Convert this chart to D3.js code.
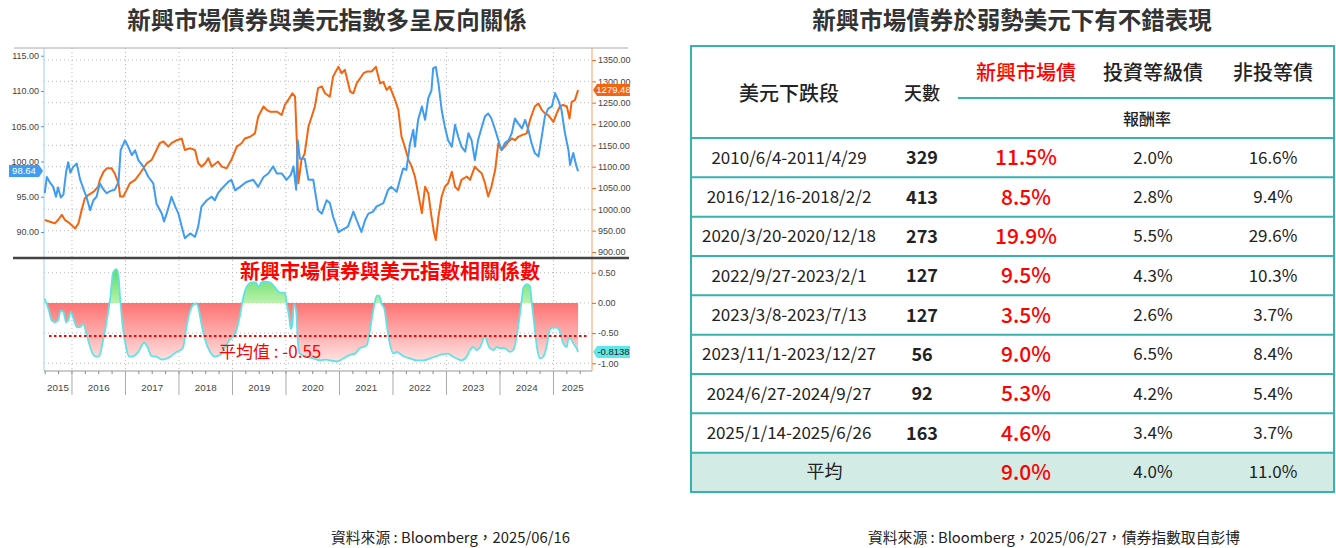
<!DOCTYPE html>
<html>
<head>
<meta charset="utf-8">
<script src="https://cdn.jsdelivr.net/npm/d3@7"></script>
<style>
  html, body { margin: 0; padding: 0; background: #fff; }
  svg { display: block; font-family: "Noto Sans CJK TC", "Noto Sans", sans-serif; }
  .ax text { font-family: "Liberation Sans", Arial, sans-serif; font-size: 9px; fill: #444; }
</style>
</head>
<body>
<svg id="chart" width="1336" height="548"></svg>
<script>
// ---- data ----
let dxySeries = [
  [2015.49,95.5],[2015.53,97.8],[2015.59,97.0],[2015.65,96.4],[2015.70,95.0],[2015.74,96.3],[2015.79,94.9],[2015.84,95.3],
  [2015.89,98.5],[2015.93,99.9],[2015.97,98.4],[2016.02,99.2],[2016.09,99.7],[2016.15,97.5],[2016.21,96.2],[2016.27,95.0],
  [2016.34,93.1],[2016.40,94.5],[2016.46,95.0],[2016.52,96.9],[2016.59,96.0],[2016.65,95.5],[2016.71,95.8],[2016.80,96.0],
  [2016.87,97.1],[2016.91,101.6],[2016.99,103.0],[2017.05,102.1],[2017.12,100.9],[2017.18,101.6],[2017.24,100.2],[2017.33,99.3],
  [2017.43,97.8],[2017.52,96.9],[2017.58,94.0],[2017.68,92.6],[2017.72,91.5],[2017.77,92.6],[2017.86,95.0],[2017.93,93.6],
  [2017.99,92.6],[2018.05,90.8],[2018.11,89.1],[2018.21,89.8],[2018.30,89.3],[2018.36,90.8],[2018.42,93.6],[2018.52,94.5],
  [2018.61,95.0],[2018.67,94.5],[2018.73,95.5],[2018.83,96.4],[2018.92,97.1],[2018.98,97.4],[2019.05,95.9],[2019.14,96.4],
  [2019.26,97.1],[2019.39,97.4],[2019.48,96.4],[2019.58,97.8],[2019.67,98.3],[2019.76,99.3],[2019.83,98.3],[2019.92,98.3],
  [2020.01,97.4],[2020.09,98.1],[2020.14,99.3],[2020.19,96.0],[2020.22,103.0],[2020.26,100.4],[2020.35,100.4],[2020.42,97.4],
  [2020.51,97.4],[2020.60,93.1],[2020.67,92.6],[2020.76,94.5],[2020.82,94.1],[2020.88,92.2],[2020.98,90.0],[2021.10,90.5],
  [2021.16,90.8],[2021.26,92.9],[2021.32,91.7],[2021.41,90.0],[2021.48,91.7],[2021.54,92.6],[2021.63,92.9],[2021.69,93.6],
  [2021.82,94.1],[2021.91,96.0],[2021.97,96.4],[2022.07,95.7],[2022.13,97.4],[2022.19,99.0],[2022.25,98.8],[2022.32,102.6],
  [2022.38,104.5],[2022.41,102.1],[2022.47,105.9],[2022.54,107.8],[2022.60,105.9],[2022.66,109.0],[2022.72,110.1],[2022.75,113.2],
  [2022.80,113.4],[2022.85,111.1],[2022.91,107.3],[2022.97,104.9],[2023.03,103.0],[2023.10,102.1],[2023.16,105.2],[2023.22,103.5],
  [2023.28,102.1],[2023.35,101.4],[2023.41,104.0],[2023.47,103.0],[2023.53,100.2],[2023.59,103.0],[2023.66,104.9],[2023.72,106.4],
  [2023.78,106.8],[2023.84,106.1],[2023.91,104.5],[2023.97,103.0],[2024.03,101.6],[2024.09,102.6],[2024.16,103.0],[2024.22,104.0],
  [2024.28,106.1],[2024.34,105.4],[2024.41,104.7],[2024.47,105.9],[2024.53,104.5],[2024.59,102.6],[2024.65,101.2],[2024.72,100.7],
  [2024.78,103.5],[2024.84,106.4],[2024.90,107.5],[2024.97,107.8],[2025.03,109.7],[2025.09,108.7],[2025.15,107.3],[2025.21,104.2],
  [2025.28,101.6],[2025.31,99.5],[2025.37,101.2],[2025.43,99.3],[2025.46,98.64]
];

let emSeries = [
  [2015.49,975],[2015.59,971],[2015.68,967],[2015.74,975],[2015.81,987],[2015.87,975],[2015.96,967],[2016.06,955],
  [2016.12,967],[2016.18,998],[2016.24,1026],[2016.31,1034],[2016.40,1041],[2016.49,1053],[2016.52,1069],[2016.59,1088],
  [2016.65,1096],[2016.74,1096],[2016.80,1084],[2016.87,1061],[2016.90,1030],[2016.96,1030],[2017.02,1045],[2017.08,1061],
  [2017.18,1069],[2017.27,1084],[2017.40,1108],[2017.49,1116],[2017.58,1139],[2017.64,1155],[2017.71,1159],[2017.80,1147],
  [2017.86,1155],[2017.96,1162],[2018.05,1166],[2018.11,1139],[2018.21,1143],[2018.30,1139],[2018.36,1108],[2018.42,1100],
  [2018.49,1108],[2018.55,1120],[2018.61,1100],[2018.73,1112],[2018.80,1100],[2018.89,1096],[2018.98,1116],[2019.08,1147],
  [2019.17,1155],[2019.23,1166],[2019.33,1170],[2019.42,1178],[2019.48,1217],[2019.58,1241],[2019.64,1233],[2019.70,1229],
  [2019.83,1229],[2019.92,1221],[2019.98,1245],[2020.04,1256],[2020.12,1272],[2020.17,1264],[2020.20,1170],[2020.23,1061],
  [2020.29,1116],[2020.35,1131],[2020.42,1194],[2020.48,1217],[2020.54,1241],[2020.60,1284],[2020.67,1288],[2020.73,1272],
  [2020.82,1264],[2020.88,1311],[2020.98,1334],[2021.04,1319],[2021.10,1327],[2021.20,1276],[2021.26,1272],[2021.32,1295],
  [2021.45,1319],[2021.51,1323],[2021.60,1323],[2021.68,1334],[2021.76,1295],[2021.82,1299],[2021.88,1280],[2021.94,1288],
  [2022.04,1256],[2022.10,1233],[2022.16,1170],[2022.22,1147],[2022.29,1116],[2022.35,1100],[2022.41,1077],[2022.47,1038],
  [2022.54,991],[2022.60,1053],[2022.66,1038],[2022.72,983],[2022.77,944],[2022.80,928],[2022.85,983],[2022.91,1030],
  [2022.97,1053],[2023.03,1061],[2023.10,1088],[2023.16,1053],[2023.22,1045],[2023.28,1069],[2023.38,1077],[2023.44,1069],
  [2023.53,1100],[2023.59,1092],[2023.66,1084],[2023.72,1061],[2023.78,1030],[2023.84,1053],[2023.91,1092],[2023.97,1155],
  [2024.03,1139],[2024.09,1147],[2024.16,1159],[2024.22,1166],[2024.28,1162],[2024.34,1170],[2024.41,1174],[2024.50,1178],
  [2024.56,1209],[2024.65,1241],[2024.72,1248],[2024.78,1233],[2024.84,1225],[2024.90,1221],[2025.00,1205],[2025.06,1225],
  [2025.12,1241],[2025.18,1245],[2025.25,1241],[2025.30,1213],[2025.34,1252],[2025.40,1256],[2025.46,1279.48]
];

let corrSeries = [
  [2015.49,0.07],[2015.56,-0.10],[2015.62,-0.29],[2015.68,-0.32],[2015.74,-0.29],[2015.79,-0.13],[2015.84,-0.15],[2015.89,-0.32],
  [2015.93,-0.29],[2015.98,-0.15],[2016.02,-0.24],[2016.09,-0.40],[2016.15,-0.40],[2016.21,-0.35],[2016.27,-0.51],[2016.34,-0.73],
  [2016.40,-0.86],[2016.46,-0.89],[2016.51,-0.88],[2016.57,-0.67],[2016.64,-0.35],[2016.71,0.04],[2016.77,0.50],[2016.83,0.56],
  [2016.87,0.45],[2016.90,0.07],[2016.95,-0.40],[2017.01,-0.73],[2017.07,-0.89],[2017.15,-0.88],[2017.24,-0.81],[2017.35,-0.66],
  [2017.41,-0.73],[2017.49,-0.88],[2017.58,-0.89],[2017.68,-0.94],[2017.77,-0.92],[2017.86,-0.88],[2017.96,-0.81],[2018.05,-0.77],
  [2018.08,-0.73],[2018.14,-0.40],[2018.21,-0.13],[2018.28,-0.02],[2018.33,-0.01],[2018.36,-0.07],[2018.42,-0.35],[2018.49,-0.62],
  [2018.58,-0.81],[2018.67,-0.89],[2018.77,-0.86],[2018.86,-0.73],[2018.95,-0.61],[2019.02,-0.55],[2019.08,-0.43],[2019.14,-0.21],
  [2019.19,0.04],[2019.26,0.26],[2019.36,0.34],[2019.44,0.34],[2019.48,0.26],[2019.54,0.34],[2019.61,0.35],[2019.70,0.34],
  [2019.79,0.26],[2019.89,0.17],[2019.98,0.17],[2020.01,0.01],[2020.06,-0.24],[2020.09,-0.43],[2020.12,-0.35],[2020.15,-0.02],
  [2020.19,-0.13],[2020.22,-0.62],[2020.26,-0.84],[2020.36,-0.88],[2020.51,-0.92],[2020.64,-0.95],[2020.76,-0.94],[2020.82,-0.95],
  [2020.95,-0.97],[2021.07,-0.92],[2021.20,-0.86],[2021.29,-0.84],[2021.38,-0.75],[2021.45,-0.73],[2021.51,-0.70],[2021.57,-0.45],
  [2021.63,-0.13],[2021.70,0.12],[2021.74,0.12],[2021.79,-0.02],[2021.84,-0.10],[2021.88,-0.35],[2021.94,-0.67],[2022.01,-0.84],
  [2022.07,-0.81],[2022.13,-0.84],[2022.19,-0.88],[2022.32,-0.92],[2022.44,-0.95],[2022.57,-0.95],[2022.69,-0.92],[2022.82,-0.88],
  [2022.94,-0.85],[2023.03,-0.84],[2023.10,-0.88],[2023.19,-0.92],[2023.28,-0.95],[2023.38,-0.89],[2023.44,-0.78],[2023.50,-0.73],
  [2023.56,-0.78],[2023.63,-0.73],[2023.68,-0.62],[2023.72,-0.54],[2023.76,-0.65],[2023.81,-0.75],[2023.88,-0.78],[2023.94,-0.73],
  [2024.00,-0.75],[2024.09,-0.75],[2024.19,-0.81],[2024.25,-0.78],[2024.30,-0.62],[2024.34,-0.40],[2024.39,-0.07],[2024.44,0.26],
  [2024.50,0.31],[2024.56,0.28],[2024.59,0.04],[2024.64,-0.35],[2024.69,-0.73],[2024.75,-0.92],[2024.81,-0.89],[2024.87,-0.73],
  [2024.93,-0.45],[2024.98,-0.41],[2025.06,-0.41],[2025.12,-0.48],[2025.18,-0.67],[2025.25,-0.73],[2025.28,-0.59],[2025.32,-0.59],
  [2025.37,-0.67],[2025.43,-0.75],[2025.46,-0.8138]
];

let avgCorr = -0.55;
let dxyTicks = [90, 95, 100, 105, 110, 115];
let emTicks = [900, 950, 1000, 1050, 1100, 1150, 1200, 1250, 1300, 1350];
let corrTicks = [-1, -0.5, 0, 0.5];
let yearLabels = ['2015', '2016', '2017', '2018', '2019', '2020', '2021', '2022', '2023', '2024', '2025'];

let periods = ['2010/6/4-2011/4/29', '2016/12/16-2018/2/2', '2020/3/20-2020/12/18', '2022/9/27-2023/2/1',
  '2023/3/8-2023/7/13', '2023/11/1-2023/12/27', '2024/6/27-2024/9/27', '2025/1/14-2025/6/26'];
let days = [329, 413, 273, 127, 127, 56, 92, 163];
let emReturn = [11.5, 8.5, 19.9, 9.5, 3.5, 9.0, 5.3, 4.6];
let igReturn = [2.0, 2.8, 5.5, 4.3, 2.6, 6.5, 4.2, 3.4];
let hyReturn = [16.6, 9.4, 29.6, 10.3, 3.7, 8.4, 5.4, 3.7];
let avgReturn = [9.0, 4.0, 11.0];

// ---- setup ----
let svg = d3.select('#chart');
let defs = svg.append('defs');

let x = d3.scaleLinear().domain([2015.477, 2025.72]).range([44, 592]);
let yDxy = d3.scaleLinear().domain([90, 115]).range([232, 55.7]);
let yEm = d3.scaleLinear().domain([900, 1350]).range([252, 60]);
let yCorr = d3.scaleLinear().domain([-1, 0.5]).range([363.3, 272.7]);

let plotL = 44, plotR = 592, topY0 = 48, topY1 = 257, botY0 = 259, botY1 = 371;
let pct = d3.format('.1f');
// plain hyphen for negatives, as on the source chart
let fmt = function(spec) {
  let f = d3.format(spec);
  return function(v) { return f(v).replace('\u2212', '-'); };
};

drawTitles();
drawFrame();
drawTopPanel();
drawCorrPanel();
drawYearAxis();
drawTable();

function drawTitles() {
  svg.append('text')
    .attr('x', 327).attr('y', 29)
    .attr('text-anchor', 'middle')
    .attr('font-size', 23.5).attr('font-weight', 'bold').attr('fill', '#333')
    .text('新興市場債券與美元指數多呈反向關係');

  svg.append('text')
    .attr('x', 1012).attr('y', 29)
    .attr('text-anchor', 'middle')
    .attr('font-size', 23.5).attr('font-weight', 'bold').attr('fill', '#333')
    .text('新興市場債券於弱勢美元下有不錯表現');

  svg.append('text')
    .attr('x', 331).attr('y', 543)
    .attr('font-size', 14.8).attr('fill', '#222')
    .text('資料來源 : Bloomberg，2025/06/16');

  svg.append('text')
    .attr('x', 868).attr('y', 543)
    .attr('font-size', 14.8).attr('fill', '#222')
    .text('資料來源 : Bloomberg，2025/06/27，債券指數取自彭博');
}

function drawFrame() {
  // dotted grid
  let grid = svg.append('g').attr('stroke', '#b8b8b8').attr('stroke-dasharray', '1,3').attr('stroke-width', 1);
  grid.selectAll('line.h').data(emTicks).enter().append('line')
    .attr('x1', plotL).attr('x2', plotR)
    .attr('y1', d => yEm(d)).attr('y2', d => yEm(d));
  grid.selectAll('line.hc').data(corrTicks).enter().append('line')
    .attr('x1', plotL).attr('x2', plotR)
    .attr('y1', d => yCorr(d)).attr('y2', d => yCorr(d));
  let bounds = d3.range(2016, 2026);
  grid.selectAll('line.v').data(bounds).enter().append('line')
    .attr('x1', d => x(d)).attr('x2', d => x(d))
    .attr('y1', topY0).attr('y2', botY1);

  svg.append('line')
    .attr('x1', 14).attr('x2', 628).attr('y1', topY0).attr('y2', topY0)
    .attr('stroke', '#a9a9a9').attr('stroke-width', 1);

  svg.append('line')
    .attr('x1', plotL).attr('x2', plotL).attr('y1', topY0).attr('y2', botY1)
    .attr('stroke', '#9fd0f2').attr('stroke-width', 1);

  svg.append('line')
    .attr('x1', plotL).attr('x2', plotR).attr('y1', botY1).attr('y2', botY1)
    .attr('stroke', '#999').attr('stroke-width', 1);
}

function drawTopPanel() {
  let clipTop = defs.append('clipPath').attr('id', 'clipTop');
  clipTop.append('rect').attr('x', plotL).attr('y', topY0).attr('width', plotR - plotL).attr('height', topY1 - topY0);

  let emLine = d3.line().x(d => x(d[0])).y(d => yEm(d[1]));
  let dxyLine = d3.line().x(d => x(d[0])).y(d => yDxy(d[1]));

  let g = svg.append('g').attr('clip-path', 'url(#clipTop)');
  g.append('path').datum(emSeries)
    .attr('d', emLine)
    .attr('fill', 'none').attr('stroke', '#f5640f').attr('stroke-width', 2).attr('stroke-linejoin', 'round');
  g.append('path').datum(dxySeries)
    .attr('d', dxyLine)
    .attr('fill', 'none').attr('stroke', '#3f9cf0').attr('stroke-width', 2).attr('stroke-linejoin', 'round');

  // left axis (dollar index)
  let left = svg.append('g').attr('class', 'ax').attr('transform', 'translate(' + plotL + ',0)')
    .call(d3.axisLeft(yDxy).tickValues(dxyTicks).tickFormat(fmt('.2f')).tickSize(3).tickPadding(2));
  left.select('.domain').remove();
  left.selectAll('.tick line').attr('stroke', '#3f9cf0');

  // right axis (EM bond index)
  let right = svg.append('g').attr('class', 'ax').attr('transform', 'translate(' + plotR + ',0)')
    .call(d3.axisRight(yEm).tickValues(emTicks).tickFormat(fmt('.2f')).tickSize(4).tickPadding(2));
  right.select('.domain').remove();
  right.selectAll('.tick line').attr('stroke', '#f5640f');

  svg.append('line')
    .attr('x1', plotR).attr('x2', plotR).attr('y1', topY0).attr('y2', botY1)
    .attr('stroke', '#f5a06a').attr('stroke-width', 1);

  // separator between panels
  svg.append('line')
    .attr('x1', 13).attr('x2', 629).attr('y1', 258).attr('y2', 258)
    .attr('stroke', '#444').attr('stroke-width', 2.5);

  let lastDxy = dxySeries[dxySeries.length - 1][1];
  let lastEm = emSeries[emSeries.length - 1][1];
  tag(plotL, yDxy(lastDxy), 'left', fmt('.2f')(lastDxy), '#3f9cf0', '#fff');
  tag(plotR, yEm(lastEm), 'right', fmt('.2f')(lastEm), '#f5640f', '#fff');
}

function tag(xTip, cy, side, label, fill, color) {
  let w = 30, h = 12, a = 4;
  let p;
  if (side === 'left') {
    let x1 = xTip - 1, x0 = x1 - a - w;
    p = 'M' + x0 + ',' + (cy - h / 2) + 'H' + (x1 - a) + 'L' + x1 + ',' + cy + 'L' + (x1 - a) + ',' + (cy + h / 2) + 'H' + x0 + 'Z';
    svg.append('path').attr('d', p).attr('fill', fill);
    svg.append('text').attr('x', x0 + w / 2).attr('y', cy + 3.3)
      .attr('text-anchor', 'middle').attr('font-family', 'Liberation Sans, Arial, sans-serif')
      .attr('font-size', 9.5).attr('fill', color).text(label);
  } else {
    let x0 = xTip + 1, x1 = x0 + a + w + 3;
    p = 'M' + x0 + ',' + cy + 'L' + (x0 + a) + ',' + (cy - h / 2) + 'H' + x1 + 'V' + (cy + h / 2) + 'H' + (x0 + a) + 'Z';
    svg.append('path').attr('d', p).attr('fill', fill);
    svg.append('text').attr('x', x0 + a + (w + 3) / 2).attr('y', cy + 3.3)
      .attr('text-anchor', 'middle').attr('font-family', 'Liberation Sans, Arial, sans-serif')
      .attr('font-size', 9.5).attr('fill', color).text(label);
  }
}

function drawCorrPanel() {
  let redGrad = defs.append('linearGradient').attr('id', 'redFade')
    .attr('gradientUnits', 'userSpaceOnUse')
    .attr('x1', 0).attr('x2', 0).attr('y1', yCorr(0)).attr('y2', yCorr(-1));
  redGrad.append('stop').attr('offset', 0).attr('stop-color', '#ff7373');
  redGrad.append('stop').attr('offset', 1).attr('stop-color', '#ffe6e6');

  let greenGrad = defs.append('linearGradient').attr('id', 'greenFade')
    .attr('gradientUnits', 'userSpaceOnUse')
    .attr('x1', 0).attr('x2', 0).attr('y1', yCorr(0.6)).attr('y2', yCorr(0));
  greenGrad.append('stop').attr('offset', 0).attr('stop-color', '#56d856');
  greenGrad.append('stop').attr('offset', 1).attr('stop-color', '#b9f3ad');

  defs.append('clipPath').attr('id', 'clipPos').append('rect')
    .attr('x', plotL).attr('y', botY0).attr('width', plotR - plotL).attr('height', yCorr(0) - botY0);
  defs.append('clipPath').attr('id', 'clipNeg').append('rect')
    .attr('x', plotL).attr('y', yCorr(0)).attr('width', plotR - plotL).attr('height', botY1 - yCorr(0));

  let area = d3.area().curve(d3.curveMonotoneX)
    .x(d => x(d[0])).y0(yCorr(0)).y1(d => yCorr(d[1]));
  let line = d3.line().curve(d3.curveMonotoneX)
    .x(d => x(d[0])).y(d => yCorr(d[1]));

  svg.append('path').datum(corrSeries).attr('d', area)
    .attr('fill', 'url(#greenFade)').attr('clip-path', 'url(#clipPos)');
  svg.append('path').datum(corrSeries).attr('d', area)
    .attr('fill', 'url(#redFade)').attr('clip-path', 'url(#clipNeg)');
  svg.append('path').datum(corrSeries).attr('d', line)
    .attr('fill', 'none').attr('stroke', '#5fe3e6').attr('stroke-width', 1.8);

  svg.append('line')
    .attr('x1', x.range()[0] + 5).attr('x2', x.range()[1] - 5)
    .attr('y1', yCorr(avgCorr)).attr('y2', yCorr(avgCorr))
    .attr('stroke', '#f00').attr('stroke-width', 2).attr('stroke-dasharray', '2.5,2.5');

  let right = svg.append('g').attr('class', 'ax').attr('transform', 'translate(' + plotR + ',0)')
    .call(d3.axisRight(yCorr).tickValues(corrTicks).tickFormat(fmt('.2f')).tickSize(4).tickPadding(2));
  right.select('.domain').remove();
  right.selectAll('.tick line').attr('stroke', '#f5640f');

  svg.append('text')
    .attr('x', 240).attr('y', 279)
    .attr('font-size', 20).attr('font-weight', 'bold').attr('fill', '#f00')
    .text('新興市場債券與美元指數相關係數');

  svg.append('text')
    .attr('x', 219).attr('y', 358)
    .attr('font-size', 17).attr('fill', '#f00')
    .text('平均值 : ' + fmt('.2f')(avgCorr));

  let lastCorr = corrSeries[corrSeries.length - 1][1];
  tag(plotR, yCorr(lastCorr), 'right', fmt('.4f')(lastCorr), '#5fe8ec', '#222');
}

function drawYearAxis() {
  let g = svg.append('g');
  let quarters = d3.range(2015.5, 2025.75, 0.25);
  g.selectAll('line.q').data(quarters).enter().append('line')
    .attr('x1', d => x(d)).attr('x2', d => x(d))
    .attr('y1', botY1).attr('y2', botY1 + 3)
    .attr('stroke', '#888');
  g.selectAll('line.yb').data(d3.range(2016, 2026)).enter().append('line')
    .attr('x1', d => x(d)).attr('x2', d => x(d))
    .attr('y1', botY1).attr('y2', 395)
    .attr('stroke', '#aaa');
  g.selectAll('text').data(yearLabels).enter().append('text')
    .attr('x', d => {
      let a = Math.max(+d, x.domain()[0]);
      let b = Math.min(+d + 1, x.domain()[1]);
      return x((a + b) / 2);
    })
    .attr('y', 391)
    .attr('text-anchor', 'middle')
    .attr('font-family', 'Liberation Sans, Arial, sans-serif')
    .attr('font-size', 9.8).attr('fill', '#444')
    .text(d => d);
}

function drawTable() {
  let tx0 = 691, tx1 = 1334, ty0 = 46, headY = 138, ty1 = 492, groupX = 958;
  let teal = '#37b2b0';
  let cols = [789, 922, 1026, 1153, 1273];
  let rowIds = d3.range(periods.length + 1);
  let rowY = d3.scaleBand().domain(rowIds).range([headY, ty1]);

  // average row background
  svg.append('rect')
    .attr('x', tx0).attr('y', rowY(periods.length))
    .attr('width', tx1 - tx0).attr('height', rowY.bandwidth())
    .attr('fill', '#d3ebe5');

  // row separators
  svg.selectAll('line.rowsep').data(rowIds.slice(1)).enter().append('line')
    .attr('x1', tx0).attr('x2', tx1)
    .attr('y1', d => rowY(d)).attr('y2', d => rowY(d))
    .attr('stroke', teal).attr('stroke-width', 2);
  svg.append('line')
    .attr('x1', tx0).attr('x2', tx1).attr('y1', headY).attr('y2', headY)
    .attr('stroke', teal).attr('stroke-width', 2);
  svg.append('line')
    .attr('x1', groupX).attr('x2', tx1).attr('y1', 98).attr('y2', 98)
    .attr('stroke', teal).attr('stroke-width', 2);
  svg.append('rect')
    .attr('x', tx0).attr('y', ty0).attr('width', tx1 - tx0).attr('height', ty1 - ty0)
    .attr('fill', 'none').attr('stroke', teal).attr('stroke-width', 2);

  // header
  let head = [
    { t: '美元下跌段', x: cols[0], y: 101, s: 20, c: '#222' },
    { t: '天數', x: cols[1], y: 100, s: 18, c: '#222' },
    { t: '新興市場債', x: cols[2], y: 80, s: 20, c: '#f00' },
    { t: '投資等級債', x: cols[3], y: 80, s: 20, c: '#222' },
    { t: '非投等債', x: cols[4], y: 80, s: 20, c: '#222' },
    { t: '報酬率', x: 1147, y: 125, s: 16, c: '#222' }
  ];
  svg.selectAll('text.head').data(head).enter().append('text')
    .attr('x', d => d.x).attr('y', d => d.y)
    .attr('text-anchor', 'middle')
    .attr('font-size', d => d.s).attr('font-weight', 500).attr('fill', d => d.c)
    .text(d => d.t);

  // body rows
  let rows = svg.selectAll('g.row').data(periods).enter().append('g')
    .attr('transform', (d, i) => 'translate(0,' + (rowY(i) + rowY.bandwidth() / 2) + ')');

  rows.append('text').attr('x', cols[0]).attr('y', 6)
    .attr('text-anchor', 'middle').attr('font-size', 17).attr('fill', '#222')
    .text(d => d);
  rows.append('text').attr('x', cols[1]).attr('y', 6.5)
    .attr('text-anchor', 'middle').attr('font-size', 18).attr('font-weight', 'bold').attr('fill', '#222')
    .text((d, i) => days[i]);
  rows.append('text').attr('x', cols[2]).attr('y', 7.5)
    .attr('text-anchor', 'middle').attr('font-size', 21).attr('font-weight', 500).attr('fill', '#f00')
    .text((d, i) => pct(emReturn[i]) + '%');
  rows.append('text').attr('x', cols[3]).attr('y', 6)
    .attr('text-anchor', 'middle').attr('font-size', 17).attr('fill', '#222')
    .text((d, i) => pct(igReturn[i]) + '%');
  rows.append('text').attr('x', cols[4]).attr('y', 6)
    .attr('text-anchor', 'middle').attr('font-size', 17).attr('fill', '#222')
    .text((d, i) => pct(hyReturn[i]) + '%');

  // average row: label spans the first two columns
  let ay = rowY(periods.length) + rowY.bandwidth() / 2;
  svg.append('text').attr('x', (tx0 + groupX) / 2).attr('y', ay + 6)
    .attr('text-anchor', 'middle').attr('font-size', 18).attr('fill', '#222').text('平均');
  svg.append('text').attr('x', cols[2]).attr('y', ay + 7.5)
    .attr('text-anchor', 'middle').attr('font-size', 21).attr('font-weight', 500).attr('fill', '#f00')
    .text(pct(avgReturn[0]) + '%');
  svg.append('text').attr('x', cols[3]).attr('y', ay + 6)
    .attr('text-anchor', 'middle').attr('font-size', 17).attr('fill', '#222')
    .text(pct(avgReturn[1]) + '%');
  svg.append('text').attr('x', cols[4]).attr('y', ay + 6)
    .attr('text-anchor', 'middle').attr('font-size', 17).attr('fill', '#222')
    .text(pct(avgReturn[2]) + '%');
}
</script>
</body>
</html>
